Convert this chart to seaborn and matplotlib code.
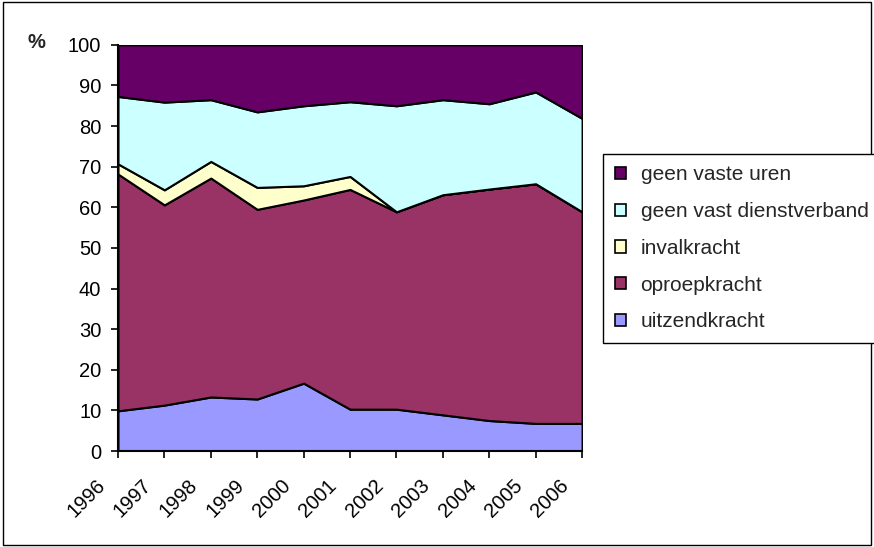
import matplotlib
matplotlib.use("Agg")
import matplotlib.pyplot as plt
import matplotlib.transforms as mtransforms
import seaborn as sns
from matplotlib.patches import Patch, Rectangle

years = ["1996", "1997", "1998", "1999", "2000", "2001", "2002", "2003", "2004", "2005", "2006"]
uitzendkracht = [9.9, 11.3, 13.3, 12.8, 16.7, 10.3, 10.3, 8.9, 7.5, 6.8, 6.8]
oproepkracht = [58.3, 49.3, 53.9, 46.7, 45.1, 54.1, 48.6, 54.2, 57.0, 59.0, 52.1]
invalkracht = [2.5, 3.7, 4.1, 5.4, 3.5, 3.2, 0, 0, 0, 0, 0]
geen_vast_dienstverband = [16.6, 21.6, 15.2, 18.6, 19.7, 18.4, 26.1, 23.4, 21.0, 22.6, 23.0]
geen_vaste_uren = [12.7, 14.1, 13.5, 16.5, 15.0, 14.0, 15.0, 13.5, 14.5, 11.6, 18.1]

labels = ["uitzendkracht", "oproepkracht", "invalkracht",
          "geen vast dienstverband", "geen vaste uren"]
colors = ["#9999FF", "#993366", "#FFFFCC", "#CCFFFF", "#660066"]

sns.set_style("white")
plt.rcParams["font.family"] = ["Liberation Sans", "DejaVu Sans"]

fig = plt.figure(figsize=(8.74, 5.47), dpi=100)
ax = fig.add_axes([0.135, 0.1755, 0.531, 0.7425])

x = list(range(len(years)))
series = [uitzendkracht, oproepkracht, invalkracht, geen_vast_dienstverband, geen_vaste_uren]
ax.stackplot(x, *series, colors=colors, edgecolor="black", linewidth=1.5, labels=labels)

ax.set_xlim(0, len(years) - 1)
ax.set_ylim(0, 100)
ax.set_yticks(range(0, 101, 10))
ax.set_xticks(x)
ax.set_xticklabels(years, rotation=45, ha="right", va="center", rotation_mode="anchor")
ax.tick_params(axis="both", labelsize=14.5, direction="out", length=5, width=1.2,
               colors="black", bottom=True, left=True)
ax.tick_params(axis="y", pad=7)
ax.tick_params(axis="x", pad=4)
# Excel puts the rotated year labels a bit down and to the left of the ticks
offset = mtransforms.ScaledTranslation(-0.16, -0.19, fig.dpi_scale_trans)
for lab in ax.get_xticklabels():
    lab.set_transform(lab.get_transform() + offset)

for s in ["top", "right"]:
    ax.spines[s].set_visible(False)
for s in ["left", "bottom"]:
    ax.spines[s].set_color("black")
    ax.spines[s].set_linewidth(1.5)

fig.text(0.032, 0.922, "%", fontsize=14.5, fontweight="bold", va="center")

handles = [Patch(facecolor=c, edgecolor="black", linewidth=1.2) for c in colors][::-1]
leg = fig.legend(handles, labels[::-1], loc="upper left", bbox_to_anchor=(0.690, 0.7185),
                 borderaxespad=0, fontsize=15, frameon=True, fancybox=False, framealpha=1,
                 edgecolor="black", handlelength=0.55, handleheight=0.55,
                 handletextpad=0.7, labelspacing=0.85, borderpad=0.55)
leg.get_frame().set_linewidth(1.0)

fig.patches.append(Rectangle((0.004, 0.004), 0.992, 0.992, transform=fig.transFigure,
                             fill=False, edgecolor="black", linewidth=1.0))

fig.savefig("out.png", dpi=100)
